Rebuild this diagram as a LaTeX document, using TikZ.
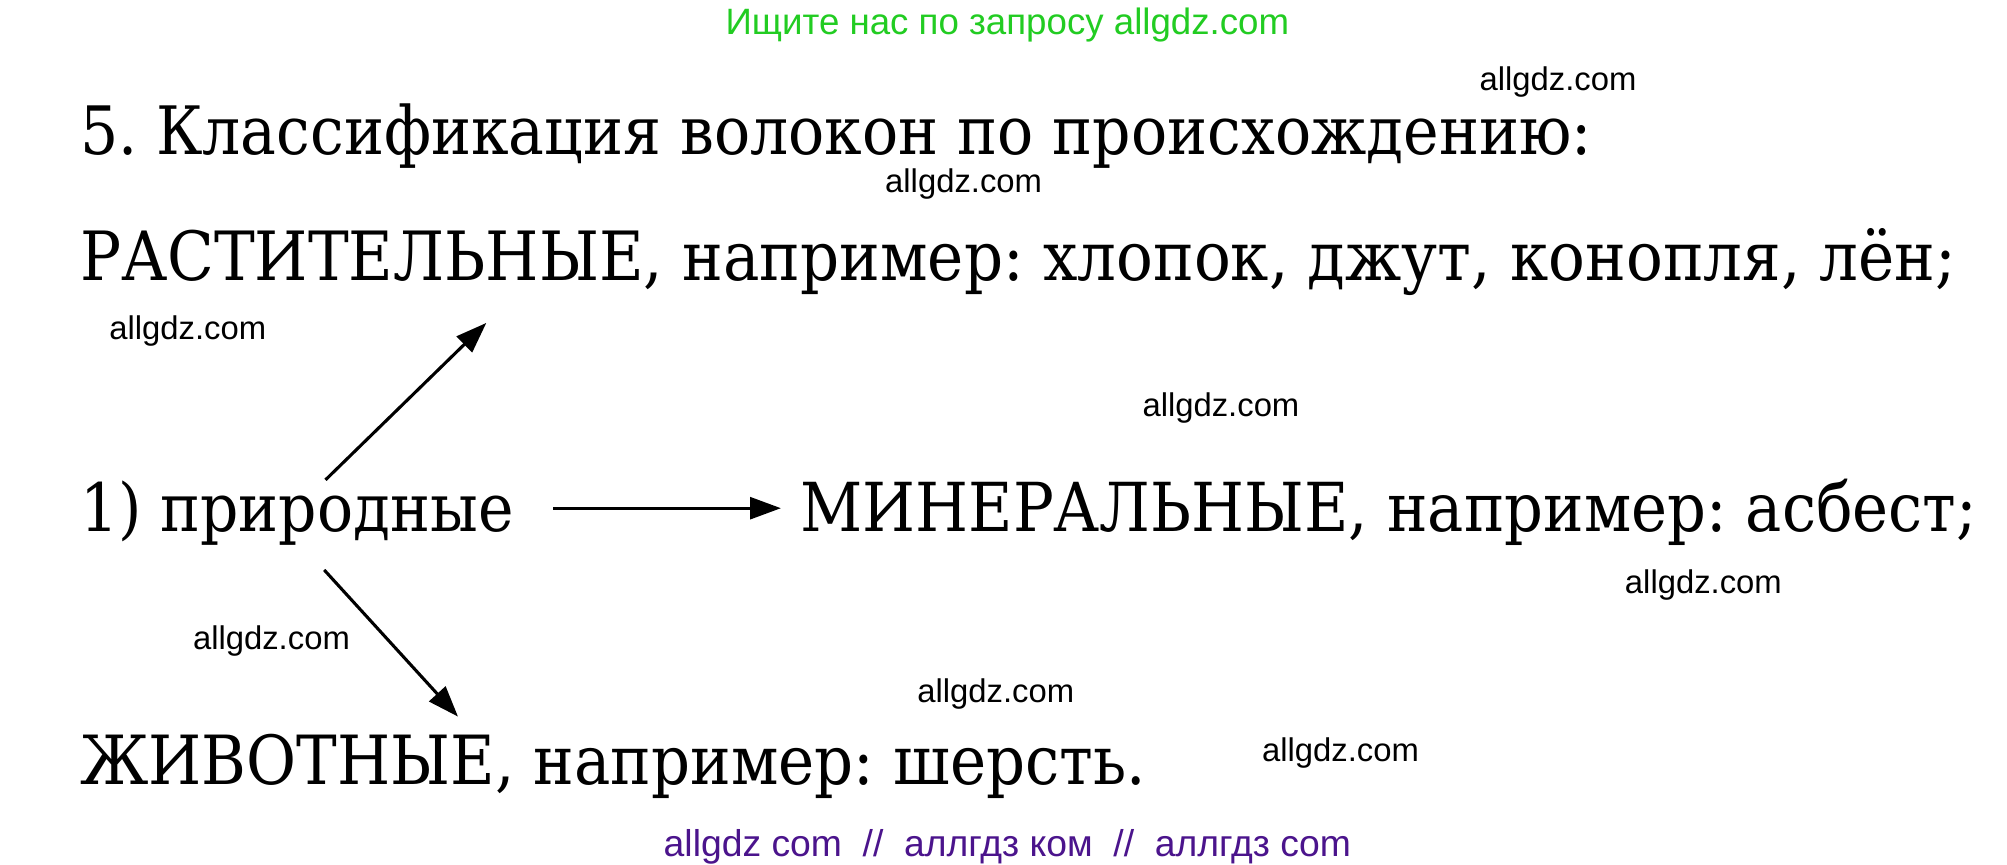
\documentclass[tikz,border=0pt]{standalone}
\usepackage{fontspec}
\setmainfont{DejaVu Serif Condensed}
\newfontfamily\dvs{DejaVu Serif Condensed}
\newfontfamily\wmsans{Liberation Sans}
\usetikzlibrary{arrows.meta}
\definecolor{wmgreen}{RGB}{34,204,34}
\definecolor{wmpurple}{RGB}{75,20,140}
\newcommand{\msz}[1]{\dvs\frenchspacing\fontsize{#1}{63}\selectfont}
\tikzset{
  maintext/.style={font=\msz{52.5}, anchor=base west, inner sep=0pt},
  wmark/.style={font=\wmsans\fontsize{25.5}{30}\selectfont, anchor=base, inner sep=0pt},
  arr/.style={line width=2.4pt, -{Triangle[length=24pt,width=17pt]}}
}
\begin{document}
\begin{tikzpicture}[x=1pt,y=1pt]
\useasboundingbox (0,0) rectangle (1560,-672.3);
% watermarks
\node[wmark, text=wmgreen, font=\wmsans\fontsize{28.5}{32}\selectfont] (top) at (783,-27) {Ищите нас по запросу allgdz.com};
\node[wmark, text=wmpurple, font=\wmsans\fontsize{29}{32}\selectfont] (bot) at (783,-666) {allgdz com\ \ //\ \ аллгдз ком\ \ //\ \ аллгдз com};
\node[wmark] (w1) at (1211,-70) {allgdz.com};
\node[wmark] (w2) at (749,-150) {allgdz.com};
\node[wmark] (w3) at (146,-264) {allgdz.com};
\node[wmark] (w4) at (949,-324) {allgdz.com};
\node[wmark] (w5) at (1324,-461) {allgdz.com};
\node[wmark] (w6) at (211,-505) {allgdz.com};
\node[wmark] (w7) at (774,-546) {allgdz.com};
\node[wmark] (w8) at (1042,-592) {allgdz.com};
% main text
\node[maintext, font=\msz{51.9}] (title) at (62,-120) {5. Классификация волокон по происхождению:};
\node[maintext, font=\msz{52.8}] (plant) at (62,-218) {РАСТИТЕЛЬНЫЕ, например: хлопок, джут, конопля, лён;};
\node[maintext, font=\msz{51.8}] (nat) at (62,-413) {1) природные};
\node[maintext] (mineral) at (622,-413) {МИНЕРАЛЬНЫЕ, например: асбест;};
\node[maintext, font=\msz{52.7}] (animal) at (62,-610) {ЖИВОТНЫЕ, например: шерсть.};
% arrow end points
\coordinate (upS) at (253,-373);
\coordinate (upE) at (378,-251);
\coordinate (rtS) at (430,-395);
\coordinate (rtE) at (607,-395);
\coordinate (dnS) at (252,-443);
\coordinate (dnE) at (356,-557);
\draw[arr] (upS) -- (upE);
\draw[arr] (rtS) -- (rtE);
\draw[arr] (dnS) -- (dnE);
\end{tikzpicture}
\end{document}
